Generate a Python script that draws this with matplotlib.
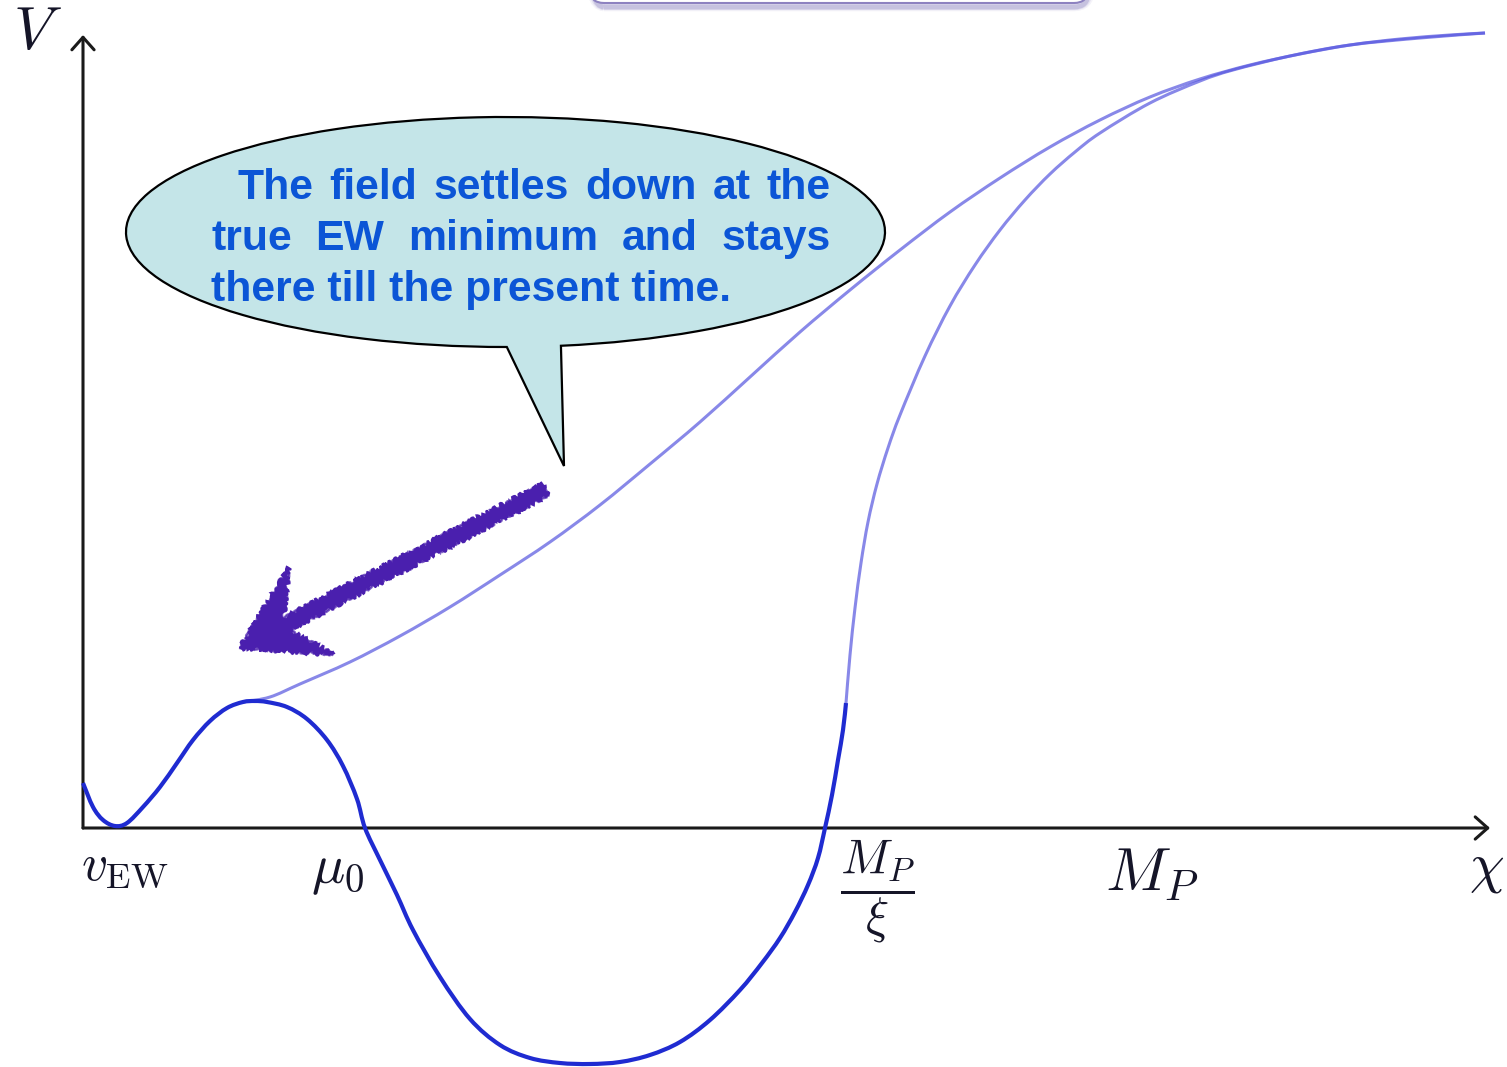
import numpy as np
import matplotlib
matplotlib.use('Agg')
import matplotlib.pyplot as plt
from matplotlib.patches import FancyArrow, FancyBboxPatch, PathPatch
from matplotlib.path import Path
from matplotlib.transforms import Affine2D

plt.rcParams['mathtext.fontset'] = 'cm'

# potential V(chi), lower branch: EW minimum, barrier, deep well, rise at M_P/xi
chi_low = [0.00, 0.10, 0.20, 0.32, 0.44, 0.60, 0.77, 0.94, 1.10, 1.27, 1.44, 1.60,
           1.72, 1.84, 2.04, 2.24, 2.44, 2.60, 2.74, 2.82, 2.97, 3.14, 3.30, 3.57,
           3.87, 4.17, 4.47, 4.77, 5.07, 5.37, 5.67, 5.97, 6.27, 6.57, 6.79, 6.97,
           7.12, 7.25, 7.35, 7.42, 7.49, 7.55, 7.60, 7.63]
V_low = [0.45, 0.21, 0.08, 0.02, 0.05, 0.21, 0.41, 0.65, 0.88, 1.07, 1.20, 1.26,
         1.27, 1.26, 1.21, 1.09, 0.88, 0.62, 0.29, 0.00, -0.32, -0.67, -1.02, -1.49,
         -1.91, -2.17, -2.30, -2.35, -2.36, -2.34, -2.27, -2.14, -1.92, -1.62, -1.35, -1.10,
         -0.84, -0.57, -0.30, 0.00, 0.33, 0.68, 0.98, 1.25]

# continuation above M_P/xi up to the plateau
chi_right = [7.63, 7.67, 7.72, 7.78, 7.85, 7.94, 8.05, 8.17, 8.42, 8.67, 8.92,
             9.17, 9.42, 9.67, 9.92, 10.17, 10.67, 11.17, 11.50, 12.07, 12.67, 13.37, 14.02]
V_right = [1.25, 1.73, 2.20, 2.65, 3.06, 3.44, 3.80, 4.13, 4.72, 5.22, 5.63,
           5.98, 6.28, 6.54, 6.76, 6.95, 7.25, 7.47, 7.58, 7.72, 7.83, 7.90, 7.95]

# branch leaving the top of the barrier
chi_up = [1.60, 1.87, 2.17, 2.67, 3.17, 3.67, 4.17, 4.67, 5.17, 5.67, 6.17, 6.67,
          7.17, 7.67, 8.17, 8.67, 9.17, 9.67, 10.17, 10.67, 11.17, 11.67, 12.17,
          12.67, 13.17, 13.67, 14.02]
V_up = [1.26, 1.31, 1.44, 1.66, 1.92, 2.21, 2.53, 2.86, 3.23, 3.64, 4.06, 4.51,
        4.96, 5.38, 5.78, 6.16, 6.50, 6.81, 7.08, 7.31, 7.49, 7.63, 7.74,
        7.83, 7.89, 7.93, 7.95]

tick_pos = [0.42, 2.55, 7.94, 10.69]
tick_lab = [r'$v_{\rm EW}$', r'$\mu_0$', r'$\dfrac{M_P}{\xi}$', r'$M_P$']
tick_size = [37, 40, 35, 44]
tick_y = [-0.38, -0.42, -0.63, -0.46]

bubble_lines = [['The', 'field', 'settles', 'down', 'at', 'the'],
                ['true', 'EW', 'minimum', 'and', 'stays'],
                ['there till the present time.']]

x_end, y_end = 14.07, 7.93


def smooth_path(xs, ys):
    # cubic Bezier segments through the given points (Catmull-Rom tangents)
    P = np.column_stack([xs, ys])
    n = len(P)
    verts = [P[0]]
    codes = [Path.MOVETO]
    for i in range(n - 1):
        p0 = P[max(i - 1, 0)]
        p1 = P[i]
        p2 = P[i + 1]
        p3 = P[min(i + 2, n - 1)]
        verts += [p1 + (p2 - p0) / 6.0, p2 - (p3 - p1) / 6.0, p2]
        codes += [Path.CURVE4] * 3
    return Path(verts, codes)


fig = plt.figure(figsize=(15.07, 10.67), dpi=100)
ax = fig.add_axes([0, 0, 1, 1])
ax.set_xlim(-0.83, 14.24)
ax.set_ylim(-2.39, 8.28)
ax.axis('off')

# axes with open arrow heads
for tip in [(x_end, 0), (0, y_end)]:
    ax.annotate('', xy=tip, xytext=(0, 0),
                arrowprops=dict(arrowstyle='->,head_length=0.45,head_width=0.4',
                                lw=2.2, color='#1a1a1a', mutation_scale=20,
                                shrinkA=0, shrinkB=0))

ax.text(-0.46, 7.96, r'$V$', fontsize=44, ha='center', va='center', color='#151528')
ax.text(14.04, -0.40, r'$\chi$', fontsize=40, ha='center', va='center', color='#151528')
for p, lab, s, yy in zip(tick_pos, tick_lab, tick_size, tick_y):
    ax.text(p, yy, lab, fontsize=s, ha='center', va='center', color='#151528')

# curves
for xs, ys in [(chi_up, V_up), (chi_right, V_right)]:
    ax.add_patch(PathPatch(smooth_path(xs, ys), fc='none', ec='#5a5ae0', alpha=0.72,
                           lw=2.2, capstyle='butt', zorder=2))
ax.add_patch(PathPatch(smooth_path(chi_low, V_low), fc='none', ec='#1f2bd1',
                       lw=3.0, capstyle='butt', zorder=3))

# rounded box cut off at the top edge, with a soft shadow
for k, (lw, al) in enumerate([(9, 0.06), (6, 0.10), (3.5, 0.18)]):
    ax.add_patch(FancyBboxPatch((5.07, 8.23 - 0.01 * k), 4.98, 0.6,
                                boxstyle='round,pad=0,rounding_size=0.14',
                                fc='none', ec='#4b3a9a', lw=lw, alpha=al, zorder=1))
ax.add_patch(FancyBboxPatch((5.07, 8.25), 4.98, 0.6,
                            boxstyle='round,pad=0,rounding_size=0.14',
                            fc='white', ec='#8d82c0', lw=1.5, zorder=1))

# speech bubble: ellipse plus a tail
cx, cy, a, b = 4.225, 5.96, 3.795, 1.15
arc = Path.arc(278.4, 270.2)
verts = Affine2D().scale(a, b).translate(cx, cy).transform(arc.vertices)
verts = np.vstack([verts, [[4.81, 3.62], [4.81, 3.62]]])
codes = list(arc.codes) + [Path.LINETO, Path.CLOSEPOLY]
ax.add_patch(PathPatch(Path(verts, codes), fc='#c4e5e8', ec='black', lw=1.6, zorder=5))

renderer = fig.canvas.get_renderer()
kw = dict(fontsize=30.8, fontweight='bold', family='Liberation Sans', color='#0b55d6',
          va='baseline', ha='left', zorder=6)
rows = [(1.54, 7.48, 6.29), (1.28, 7.48, 5.78), (1.28, None, 5.27)]
for words, (x0, x1, yb) in zip(bubble_lines, rows):
    arts = [ax.text(x0, yb, w, **kw) for w in words]
    if x1 is None or len(arts) < 2:
        continue
    widths = [t.get_window_extent(renderer).width / 100.0 for t in arts]
    gap = (x1 - x0 - sum(widths)) / (len(arts) - 1)
    x = x0
    for t, w in zip(arts, widths):
        t.set_x(x)
        x += w + gap

# hand-drawn arrow pointing at the EW minimum region
for sc, rnd, al in [(2.5, 6, 1.0), (1.5, 10, 0.7)]:
    arr = FancyArrow(4.62, 3.38, -3.05, -1.58, width=0.13, head_width=0.97,
                     head_length=0.8, overhang=0.35, length_includes_head=True,
                     fc='#4a1fae', ec='#4a1fae', lw=1.5, alpha=al, zorder=4)
    arr.set_sketch_params(scale=sc, length=8, randomness=rnd)
    ax.add_patch(arr)

fig.savefig('out.png', dpi=100)
